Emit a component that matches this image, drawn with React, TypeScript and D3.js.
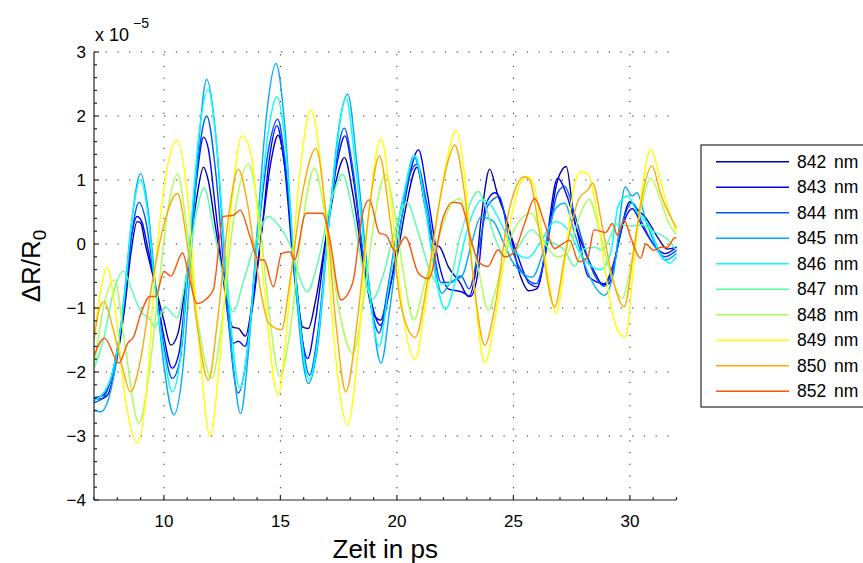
import React from 'react';
import * as d3 from 'd3';

// Wavelength labels (legend)
const wavelengths = ['842 nm', '843 nm', '844 nm', '845 nm', '846 nm', '847 nm', '848 nm', '849 nm', '850 nm', '852 nm'];
// MATLAB jet(10)
const seriesColors = ['#0000aa', '#0000ff', '#0055ff', '#00aaff', '#00ffff', '#55ffaa', '#aaff55', '#ffff00', '#ffaa00', '#ff5500'];

const xMajorTicks = [10, 15, 20, 25, 30];
const yMajorTicks = [-4, -3, -2, -1, 0, 1, 2, 3];

// [time in ps, ΔR/R0 in 1e-5]
const s842: [number, number][] = [
  [7.0, -2.42], [7.3, -2.42], [7.6, -2.35], [7.9, -1.95], [8.3, -1.05], [8.6, -0.1], [8.85, 0.35], [9.0, 0.33], [9.2, 0.0], [9.6, -0.6],
  [10.0, -1.2], [10.3, -1.58], [10.6, -1.4], [11.0, -0.4], [11.4, 0.7], [11.7, 1.2], [11.9, 1.0], [12.2, 0.3], [12.6, -0.6], [12.95, -1.3],
  [13.2, -1.32], [13.5, -1.44], [13.8, -0.9], [14.2, 0.2], [14.6, 1.3], [14.9, 1.7], [15.2, 1.2], [15.6, -0.3], [15.96, -1.3], [16.2, -1.32],
  [16.5, -0.9], [17.0, 0.2], [17.4, 1.0], [17.75, 1.35], [18.1, 0.8], [18.6, -0.4], [19.0, -1.1], [19.3, -1.19], [19.6, -0.8], [20.0, -0.2],
  [20.4, 0.6], [20.86, 1.2], [21.2, 0.6], [21.6, 0.0], [21.85, -0.05], [22.2, -0.35], [22.7, -0.6], [23.08, -0.82], [23.35, -0.5], [23.65, 0.5],
  [23.98, 1.17], [24.3, 0.8], [24.77, 0.3], [25.3, -0.5], [25.65, -0.73], [26.0, -0.7], [26.35, -0.2], [26.9, 1.0], [27.27, 1.21], [27.6, 0.4],
  [28.0, -0.05], [28.5, -0.45], [28.85, -0.64], [29.1, -0.62], [29.5, 0.0], [30.0, 0.66], [30.3, 0.55], [30.7, 0.4], [31.2, 0.1], [31.6, -0.08], [32.0, -0.05],
];
const s843: [number, number][] = [
  [7.0, -2.4], [7.3, -2.38], [7.6, -2.25], [7.9, -1.85], [8.3, -0.9], [8.6, 0.1], [8.85, 0.43], [9.05, 0.35], [9.3, -0.05], [9.7, -0.8],
  [10.0, -1.45], [10.35, -1.94], [10.65, -1.7], [11.0, -0.5], [11.4, 1.0], [11.7, 1.67], [11.9, 1.5], [12.2, 0.6], [12.6, -0.7], [12.98, -1.55],
  [13.2, -1.52], [13.48, -1.6], [13.8, -1.0], [14.2, 0.2], [14.55, 1.4], [14.85, 1.85], [15.15, 1.3], [15.6, -0.5], [16.17, -1.79], [16.5, -1.2],
  [17.0, 0.2], [17.45, 1.3], [17.77, 1.69], [18.1, 1.1], [18.6, -0.3], [19.3, -1.27], [19.7, -0.7], [20.2, 0.4], [20.93, 1.47], [21.3, 0.8],
  [21.8, -0.3], [22.2, -0.7], [22.8, -0.75], [23.15, -0.82], [23.5, -0.4], [23.8, 0.6], [24.2, 0.8], [24.4, 0.73], [24.75, 0.3], [25.2, -0.2],
  [25.7, -0.62], [26.05, -0.67], [26.4, 0.0], [26.9, 1.03], [27.3, 0.75], [27.8, 0.1], [28.2, -0.5], [28.9, -0.62], [29.3, -0.3], [29.7, 0.3],
  [30.1, 0.55], [30.5, 0.3], [31.0, 0.0], [31.5, -0.15], [32.0, -0.05],
];
const s844: [number, number][] = [
  [7.0, -2.48], [7.4, -2.4], [7.8, -2.0], [8.3, -0.9], [8.6, 0.1], [8.93, 0.65], [9.2, 0.4], [9.6, -0.6], [10.0, -1.6], [10.36, -2.1],
  [10.7, -1.8], [11.0, -0.6], [11.4, 1.1], [11.84, 2.0], [12.2, 1.2], [12.6, -0.5], [13.19, -2.33], [13.5, -1.9], [14.0, 0.0], [14.5, 1.5],
  [14.88, 1.95], [15.2, 1.3], [15.6, -0.3], [16.25, -2.05], [16.6, -1.4], [17.1, 0.4], [17.74, 1.81], [18.1, 1.2], [18.6, -0.3], [19.24, -1.39],
  [19.6, -0.7], [20.2, 0.6], [20.86, 1.25], [21.3, 0.6], [21.9, -0.6], [22.3, -0.6], [22.75, -0.5], [23.1, -0.7], [23.5, -0.1], [23.9, 0.6],
  [24.4, 0.74], [24.8, 0.1], [25.3, -0.4], [25.98, -0.62], [26.35, -0.2], [26.9, 0.8], [27.2, 0.9], [27.6, 0.5], [28.0, 0.0], [28.5, -0.5],
  [28.9, -0.66], [29.3, -0.35], [29.7, 0.35], [30.1, 0.65], [30.5, 0.35], [31.0, 0.0], [31.5, -0.2], [32.0, -0.1],
];
const s845: [number, number][] = [
  [7.0, -2.6], [7.3, -2.62], [7.5, -2.54], [7.9, -1.95], [8.3, -0.8], [8.6, 0.3], [9.0, 1.1], [9.3, 0.6], [9.6, -0.5], [10.0, -1.9],
  [10.43, -2.67], [10.8, -2.0], [11.2, 0.0], [11.5, 1.6], [11.84, 2.57], [12.2, 1.8], [12.6, -0.2], [13.0, -2.0], [13.29, -2.65], [13.6, -1.8],
  [14.0, 0.2], [14.4, 2.0], [14.81, 2.82], [15.2, 1.8], [15.6, -0.4], [16.2, -2.18], [16.6, -1.6], [17.1, 0.4], [17.5, 1.8], [17.89, 2.34],
  [18.3, 1.2], [18.8, -0.6], [19.32, -1.86], [19.7, -1.0], [20.2, 0.4], [20.72, 1.37], [21.1, 0.9], [21.6, -0.3], [21.93, -0.77], [22.3, -0.6],
  [22.8, -0.5], [23.2, 0.0], [23.6, 0.42], [24.1, 0.37], [24.6, 0.0], [25.0, -0.3], [25.8, -0.52], [26.3, -0.1], [26.8, 0.55], [27.2, 0.64],
  [27.6, 0.2], [28.2, -0.45], [28.9, -0.8], [29.3, -0.45], [29.8, 0.89], [30.1, 0.75], [30.3, 0.8], [30.7, 0.35], [31.2, -0.1], [31.5, -0.25], [32.0, -0.15],
];
const s846: [number, number][] = [
  [7.0, -2.45], [7.4, -2.33], [7.8, -2.0], [8.3, -0.85], [8.6, 0.3], [9.0, 1.0], [9.3, 0.5], [9.6, -0.6], [10.0, -1.7], [10.36, -2.31],
  [10.7, -1.8], [11.1, 0.0], [11.5, 1.7], [11.9, 2.42], [12.3, 1.4], [12.7, -0.5], [13.26, -2.26], [13.6, -1.6], [14.0, 0.0], [14.5, 1.8],
  [14.85, 2.3], [15.2, 1.6], [15.6, -0.3], [16.24, -2.12], [16.6, -1.5], [17.1, 0.4], [17.82, 2.28], [18.2, 1.3], [18.7, -0.4], [19.24, -1.6],
  [19.6, -0.8], [20.2, 0.6], [20.79, 1.38], [21.2, 0.6], [21.7, -0.6], [22.08, -1.02], [22.5, -0.6], [23.0, 0.2], [23.65, 0.69], [23.9, 0.66],
  [24.5, 0.3], [25.0, -0.1], [25.6, -0.22], [26.2, 0.05], [26.77, 0.35], [27.35, 0.22], [27.8, -0.1], [28.2, -0.3], [28.74, -0.4], [29.2, -0.1],
  [29.5, 0.6], [29.9, 0.75], [30.3, 0.5], [30.8, 0.3], [31.3, -0.15], [31.7, -0.3], [32.0, -0.2],
];
const s847: [number, number][] = [
  [7.0, -1.95], [7.4, -1.5], [7.8, -0.8], [8.27, -0.42], [8.6, -0.7], [9.0, -1.05], [9.43, -1.19], [9.6, -1.3], [10.05, -0.98], [10.55, -1.15],
  [11.0, -0.4], [11.4, 0.5], [11.73, 0.88], [12.1, 0.3], [12.6, -0.6], [12.98, -1.06], [13.4, -0.6], [14.0, 0.1], [14.48, 0.43], [14.95, 0.28],
  [15.4, 0.0], [15.8, -0.5], [16.15, -0.75], [16.6, -0.3], [17.2, 0.7], [17.67, 1.09], [18.1, 0.5], [18.6, -0.5], [18.96, -0.86], [19.4, -0.5],
  [19.9, 0.2], [20.43, 0.65], [20.9, 0.2], [21.4, -0.4], [21.72, -0.61], [22.2, -0.63], [22.7, 0.1], [23.5, 0.82], [23.8, 0.6], [24.2, 0.1],
  [24.7, -0.2], [25.1, -0.1], [25.77, 0.22], [26.3, 0.05], [26.8, 0.0], [27.2, -0.1], [27.63, -0.35], [28.0, -0.08], [28.5, -0.05], [28.8, -0.1],
  [29.5, 0.32], [30.0, 0.28], [30.5, 0.3], [31.0, 0.2], [31.6, 0.08], [32.0, -0.1],
];
const s848: [number, number][] = [
  [7.0, -1.95], [7.4, -1.0], [7.89, -0.56], [8.3, -1.5], [8.93, -2.8], [9.3, -2.2], [9.8, -0.6], [10.2, 0.6], [10.58, 1.09], [11.0, 0.2],
  [11.5, -1.3], [12.05, -2.1], [12.5, -1.2], [13.0, 0.4], [13.62, 1.25], [14.1, 0.4], [14.5, -1.0], [14.98, -2.07], [15.4, -1.4], [15.9, 0.2],
  [16.46, 1.18], [16.9, 0.5], [17.5, -1.0], [18.1, -1.71], [18.6, -0.8], [19.0, 0.3], [19.5, 1.08], [19.9, 0.5], [20.3, -0.5], [20.72, -1.19],
  [21.2, -0.6], [21.8, 0.1], [22.3, 0.6], [22.72, 0.71], [23.1, 0.2], [23.5, -0.4], [23.91, -1.03], [24.4, -0.5], [25.0, 0.2], [25.77, 0.48],
  [26.3, 0.05], [26.9, -0.2], [27.3, -0.15], [27.8, 0.4], [28.24, 0.7], [28.7, 0.2], [29.2, -0.5], [29.67, -0.85], [30.1, -0.2], [30.5, 0.6],
  [30.9, 1.03], [31.3, 0.7], [31.7, 0.3], [32.0, 0.15],
];
const s849: [number, number][] = [
  [7.0, -1.5], [7.25, -0.8], [7.57, -0.36], [7.9, -1.0], [8.3, -2.3], [8.86, -3.11], [9.2, -2.5], [9.65, -0.3], [10.1, 1.1], [10.58, 1.62],
  [11.0, 0.8], [11.5, -1.5], [11.98, -3.0], [12.4, -1.8], [12.9, 0.6], [13.34, 1.69], [13.75, 1.4], [14.2, -0.3], [14.91, -2.36], [15.3, -1.2],
  [15.8, 1.0], [16.31, 2.09], [16.8, 1.0], [17.3, -1.5], [17.89, -2.83], [18.3, -1.8], [18.8, 0.5], [19.32, 1.64], [19.8, 0.5], [20.3, -1.2],
  [20.79, -1.8], [21.2, -1.0], [21.8, 0.6], [22.2, 1.4], [22.54, 1.78], [22.9, 1.1], [23.3, -0.6], [23.77, -1.86], [24.2, -1.2], [24.8, 0.2],
  [25.3, 0.95], [25.63, 1.05], [25.9, 0.9], [26.4, -0.3], [26.84, -1.08], [27.2, -0.3], [27.6, 0.9], [27.9, 1.13], [28.2, 1.1], [28.7, 0.2],
  [29.2, -1.0], [29.6, -1.42], [29.8, -1.45], [30.2, -0.2], [30.5, 0.8], [30.9, 1.48], [31.3, 1.0], [31.6, 0.6], [32.0, 0.2],
];
const s850: [number, number][] = [
  [7.0, -1.5], [7.2, -1.05], [7.43, -0.9], [7.8, -1.3], [8.2, -1.9], [8.57, -2.31], [9.0, -1.8], [9.5, -0.6], [10.0, 0.3], [10.58, 0.79],
  [11.0, 0.0], [11.4, -1.2], [11.91, -2.13], [12.3, -1.2], [12.8, 0.5], [13.19, 1.17], [13.6, 0.6], [14.0, -0.4], [14.5, -1.24], [15.05, -1.34],
  [15.4, -0.6], [15.9, 0.7], [16.53, 1.49], [17.0, 0.3], [17.4, -1.3], [17.81, -2.31], [18.3, -1.2], [18.8, 0.5], [19.25, 1.375], [19.7, 0.4],
  [20.2, -1.0], [20.79, -1.46], [21.3, -0.6], [21.8, 0.6], [22.2, 1.3], [22.48, 1.55], [22.9, 0.8], [23.3, -0.6], [23.77, -1.58], [24.2, -1.0],
  [24.8, 0.5], [25.48, 1.05], [25.7, 1.0], [26.2, 0.0], [26.77, -0.98], [27.2, -0.2], [27.8, 0.7], [28.2, 0.85], [28.4, 0.95], [28.8, 0.3],
  [29.3, -0.6], [29.75, -0.98], [30.2, 0.0], [30.5, 0.7], [30.95, 1.22], [31.3, 0.8], [32.0, 0.25],
];
const s852: [number, number][] = [
  [7.0, -1.75], [7.45, -1.47], [8.07, -1.86], [8.45, -1.55], [8.7, -1.45], [9.0, -1.1], [9.4, -0.82], [9.65, -0.82], [10.0, -0.43], [10.3, -0.5],
  [10.8, -0.14], [11.1, -0.55], [11.41, -0.93], [11.84, -0.85], [12.12, -0.72], [12.55, 0.43], [12.98, 0.45], [13.27, 0.53], [13.7, 0.11], [14.05, -0.24],
  [14.3, -0.25], [14.7, -0.67], [15.05, -0.15], [15.41, -0.12], [15.6, -0.25], [16.1, 0.48], [16.81, 0.48], [17.1, 0.11], [17.6, -0.875], [18.1, -0.61],
  [18.53, 0.48], [18.82, 0.69], [19.25, 0.17], [19.53, 0.14], [19.93, -0.12], [20.36, 0.11], [20.93, -0.46], [21.36, -0.54], [22.0, 0.43], [22.36, 0.65],
  [22.72, 0.64], [23.22, 0.01], [23.51, -0.28], [23.91, -0.35], [24.34, -0.09], [24.62, -0.2], [25.0, -0.14], [25.48, 0.32], [25.91, 0.71], [26.34, 0.32],
  [26.77, -0.07], [27.1, 0.0], [27.41, 0.06], [27.81, -0.28], [28.2, -0.2], [28.46, 0.22], [28.96, 0.18], [29.25, 0.32], [29.46, 0.14], [29.75, 0.375],
  [30.03, 0.11], [30.46, -0.22], [30.68, 0.0], [31.03, -0.1], [31.32, -0.05], [31.6, -0.05], [31.9, 0.09], [32.0, 0.1],
];

const allSeries = [s842, s843, s844, s845, s846, s847, s848, s849, s850, s852];

const W = 863;
const H = 563;
const M = { left: 94, right: 676.5, top: 52, bottom: 500 };
const FONT = '"Liberation Sans", Arial, Helvetica, sans-serif';

export default function App() {
  const x = d3.scaleLinear().domain([7, 32]).range([M.left, M.right]);
  const y = d3.scaleLinear().domain([-4, 3]).range([M.bottom, M.top]);
  const line = d3
    .line<[number, number]>()
    .x((d) => x(d[0]))
    .y((d) => y(d[1]))
    .curve(d3.curveMonotoneX);

  const xMinor = d3.range(7, 32.001, 1).filter((v) => !xMajorTicks.includes(v));
  const yMinor = d3.range(-40, 31, 2).map((v) => v / 10).filter((v) => !yMajorTicks.some((m) => Math.abs(m - v) < 1e-6));

  const legendTop = 145;
  const rowH = 25.5;

  return (
    <svg width={W} height={H} style={{ position: 'absolute', left: 0, top: 0, background: '#fff' }} fontFamily={FONT}>
      <defs>
        <clipPath id="plotClip">
          <rect x={M.left} y={M.top - 1} width={M.right - M.left + 1} height={M.bottom - M.top + 1} />
        </clipPath>
      </defs>
      <rect x={0} y={0} width={W} height={H} fill="#fff" />

      {/* grid */}
      <g stroke="#222" strokeWidth={1} strokeDasharray="1.2 10.5">
        {xMajorTicks.map((t) => (
          <line key={'gx' + t} x1={x(t)} x2={x(t)} y1={M.bottom} y2={M.top} />
        ))}
        {yMajorTicks.filter((t) => t !== -4).map((t) => (
          <line key={'gy' + t} x1={M.left} x2={M.right} y1={y(t)} y2={y(t)} />
        ))}
      </g>

      {/* series */}
      <g clipPath="url(#plotClip)" fill="none" strokeWidth={1.4} strokeLinejoin="round">
        {allSeries.map((s, i) => (
          <path key={wavelengths[i]} d={line(s) || ''} stroke={seriesColors[i]} />
        ))}
      </g>

      {/* axes */}
      <g stroke="#262626" strokeWidth={1.2}>
        <line x1={M.left} x2={M.left} y1={M.top} y2={M.bottom} />
        <line x1={M.left} x2={M.right} y1={M.bottom} y2={M.bottom} />
        {xMajorTicks.map((t) => (
          <line key={'xt' + t} x1={x(t)} x2={x(t)} y1={M.bottom} y2={M.bottom - 5} />
        ))}
        {xMinor.map((t) => (
          <line key={'xm' + t} x1={x(t)} x2={x(t)} y1={M.bottom} y2={M.bottom - 3} />
        ))}
        {yMajorTicks.map((t) => (
          <line key={'yt' + t} x1={M.left} x2={M.left + 5} y1={y(t)} y2={y(t)} />
        ))}
        {yMinor.map((t) => (
          <line key={'ym' + t} x1={M.left} x2={M.left + 3} y1={y(t)} y2={y(t)} />
        ))}
      </g>

      {/* tick labels */}
      <g fontSize={17} fill="#000">
        {xMajorTicks.map((t) => (
          <text key={'xl' + t} x={x(t)} y={527} textAnchor="middle">
            {t}
          </text>
        ))}
        {yMajorTicks.map((t) => (
          <text key={'yl' + t} x={86} y={y(t) + 6} textAnchor="end">
            {t < 0 ? '\u2212' + Math.abs(t) : t}
          </text>
        ))}
      </g>

      {/* exponent */}
      <text x={95} y={41} fontSize={18} fill="#000">
        x 10
      </text>
      <text x={133} y={28} fontSize={14} fill="#000">
        {'\u22125'}
      </text>

      {/* axis titles */}
      <text x={(M.left + M.right) / 2} y={558} fontSize={26} textAnchor="middle" fill="#000">
        Zeit in ps
      </text>
      <text transform="translate(40, 266) rotate(-90)" fontSize={26} textAnchor="middle" fill="#000">
        ΔR/R<tspan dy={6} fontSize={19}>0</tspan>
      </text>

      {/* legend */}
      <rect x={701} y={legendTop} width={200} height={262} fill="#fff" stroke="#000" strokeWidth={1} />
      {wavelengths.map((w, i) => {
        const cy = legendTop + 16.7 + i * rowH;
        return (
          <g key={'lg' + w}>
            <line x1={716} x2={789} y1={cy} y2={cy} stroke={seriesColors[i]} strokeWidth={1.4} />
            <text x={797} y={cy + 6} fontSize={17.5} wordSpacing={3} fill="#000">
              {w}
            </text>
          </g>
        );
      })}
    </svg>
  );
}
